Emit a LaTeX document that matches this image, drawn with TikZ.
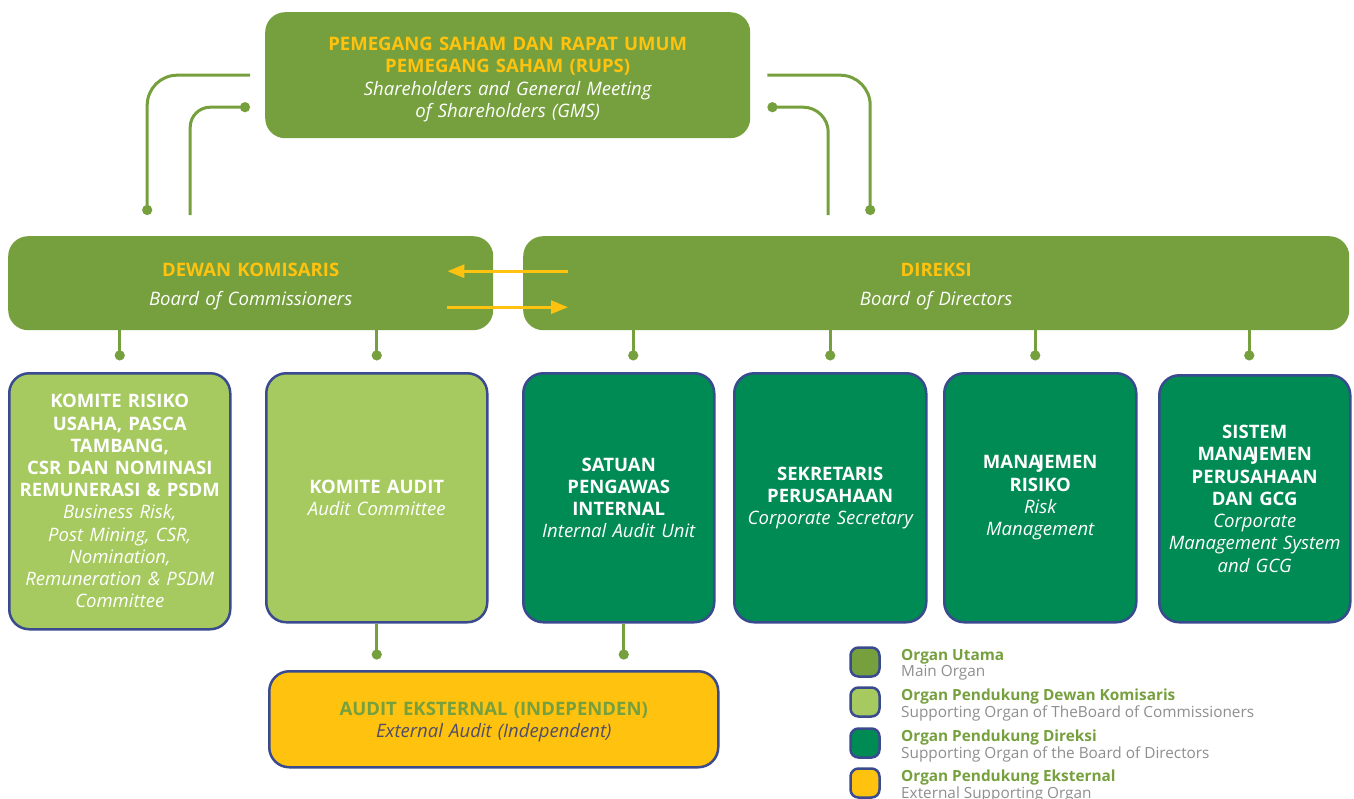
\documentclass[tikz,border=0pt]{standalone}
\usepackage{fontspec}
\setmainfont{Open Sans}
\usepackage{xcolor}
\usepackage{tikz}
\usetikzlibrary{arrows.meta}
\definecolor{maingreen}{HTML}{76A03E}
\definecolor{lightgreen}{HTML}{A6CA60}
\definecolor{darkgreen}{HTML}{008A54}
\definecolor{gold}{HTML}{FFC20E}
\definecolor{navy}{HTML}{3A4A8E}
\definecolor{slate}{HTML}{4E4E6A}
\definecolor{leggray}{HTML}{8E8E8E}

\begin{document}
\begin{tikzpicture}[x=1bp,y=-1bp]
\tikzstyle{every node}+=[inner sep=0pt]
\tikzstyle{organ}=[rounded corners=20bp, anchor=north west, align=center, text=white, font=\fontsize{18.6}{22.3}\selectfont]
\tikzstyle{mainorg}=[organ, fill=maingreen]
\tikzstyle{bocorg}=[organ, fill=lightgreen, draw=navy, line width=2.5bp]
\tikzstyle{bodorg}=[organ, fill=darkgreen, draw=navy, line width=2.5bp]
\tikzstyle{extorg}=[organ, fill=gold, draw=navy, line width=2.5bp]
\tikzstyle{link}=[draw=maingreen, line width=3bp]
\tikzstyle{flow}=[draw=gold, line width=3bp, -{Triangle[length=17bp,width=13bp]}]
\tikzstyle{swatch}=[rounded corners=8bp, draw=navy, line width=2.5bp, minimum size=29bp]
\tikzstyle{legtext}=[anchor=west, align=left, font=\fontsize{15.4}{16.3}\selectfont]
\useasboundingbox (0,0) rectangle (1354,798);

\node[mainorg, minimum width=485bp, minimum height=126bp, text width=470bp] (rups) at (265,12)
  {{\bfseries\color{gold}\rule{0pt}{22bp}PEMEGANG SAHAM DAN RAPAT UMUM\\PEMEGANG SAHAM (RUPS)}\\
   {\itshape Shareholders and General Meeting\\of Shareholders (GMS)}};
\node[mainorg, minimum width=485bp, minimum height=94bp, text width=470bp] (dewan) at (8,236)
  {{\bfseries\color{gold}\rule{0pt}{19.5bp}DEWAN KOMISARIS}\\[6.5bp]{\itshape Board of Commissioners}};
\node[mainorg, minimum width=826bp, minimum height=94bp, text width=810bp] (direksi) at (523,236)
  {{\bfseries\color{gold}\rule{0pt}{19.5bp}DIREKSI}\\[6.5bp]{\itshape Board of Directors}};

\node[bocorg, minimum width=221bp, minimum height=256bp, text width=212bp] (kr) at (8,372)
  {{\bfseries KOMITE RISIKO\\USAHA, PASCA\\TAMBANG,\\CSR DAN NOMINASI\\REMUNERASI \& PSDM}\\
   {\itshape Business Risk,\\Post Mining, CSR,\\Nomination,\\Remuneration \& PSDM\\Committee}};
\node[bocorg, minimum width=221bp, minimum height=249bp, text width=210bp] (ka) at (265,372)
  {{\bfseries KOMITE AUDIT}\\{\itshape Audit Committee}};
\node[bodorg, minimum width=191bp, minimum height=249bp, text width=182bp] (sp) at (522,372)
  {{\bfseries SATUAN\\PENGAWAS\\INTERNAL}\\{\itshape Internal Audit Unit}};
\node[bodorg, minimum width=192bp, minimum height=249bp, text width=182bp] (sk) at (733,372)
  {{\bfseries SEKRETARIS\\PERUSAHAAN}\\{\itshape Corporate Secretary}};
\node[bodorg, minimum width=192bp, minimum height=249bp, text width=182bp] (mr) at (943,372)
  {{\bfseries MANA\kern-3bp JEMEN\\RISIKO}\\{\itshape Risk\\Management}};
\node[bodorg, minimum width=191bp, minimum height=247bp, text width=186bp] (sm) at (1158,374)
  {{\bfseries SISTEM\\MANA\kern-3bp JEMEN\\PERUSAHAAN\\DAN GCG}\\{\itshape Corporate\\Management System\\and GCG}};

\node[extorg, minimum width=449bp, minimum height=96bp, text width=440bp] (audit) at (268,670)
  {{\bfseries\color{maingreen}\rule{0pt}{19.5bp}AUDIT EKSTERNAL (INDEPENDEN)}\\{\itshape\color{slate}External Audit (Independent)}};

\draw[link, rounded corners=30bp, -{Circle[length=10bp]}] ([xshift=-15bp]rups.west) -| ([xshift=-103.5bp,yshift=21bp]dewan.north);
\draw[link, rounded corners=20bp, {Circle[length=10bp]}-] ([xshift=-15bp,yshift=-32bp]rups.west) -| ([xshift=-60.5bp,yshift=21bp]dewan.north);
\draw[link, rounded corners=30bp, -{Circle[length=10bp]}] ([xshift=17bp]rups.east) -| ([xshift=-66bp,yshift=21bp]direksi.north);
\draw[link, rounded corners=25bp, {Circle[length=10bp]}-] ([xshift=17bp,yshift=-32bp]rups.east) -| ([xshift=-108bp,yshift=21bp]direksi.north);

\draw[flow] ([xshift=45bp,yshift=12bp]direksi.west) -- ([xshift=-46bp,yshift=12bp]dewan.east);
\draw[flow] ([xshift=-46bp,yshift=-24bp]dewan.east) -- ([xshift=45bp,yshift=-24bp]direksi.west);

\draw[link, -{Circle[length=10bp]}] (kr.north |- dewan.south) -- ++(0,30);
\draw[link, -{Circle[length=10bp]}] (ka.north |- dewan.south) -- ++(0,30);
\draw[link, -{Circle[length=10bp]}] ([xshift=14.5bp]sp.north |- direksi.south) -- ++(0,30);
\draw[link, -{Circle[length=10bp]}] (sk.north |- direksi.south) -- ++(0,30);
\draw[link, -{Circle[length=10bp]}] ([xshift=-5bp]mr.north |- direksi.south) -- ++(0,30);
\draw[link, -{Circle[length=10bp]}] ([xshift=-5.5bp]sm.north |- direksi.south) -- ++(0,30);

\draw[link, -{Circle[length=10bp]}] (ka.south) -- ++(0,36);
\draw[link, -{Circle[length=10bp]}] ([xshift=5bp]sp.south) -- ++(0,36);

\node[swatch, fill=maingreen] (l1) at (865,662) {};
\node[legtext] (l1t) at (901,665) {{\bfseries\color{maingreen}Organ Utama}\\{\color{leggray}Main Organ}};
\node[swatch, fill=lightgreen] (l2) at (865,702) {};
\node[legtext] (l2t) at (901,705) {{\bfseries\color{maingreen}Organ Pendukung Dewan Komisaris}\\{\color{leggray}Supporting Organ of TheBoard of Commissioners}};
\node[swatch, fill=darkgreen] (l3) at (865,743) {};
\node[legtext] (l3t) at (901,746) {{\bfseries\color{maingreen}Organ Pendukung Direksi}\\{\color{leggray}Supporting Organ of the Board of Directors}};
\node[swatch, fill=gold] (l4) at (865,783) {};
\node[legtext] (l4t) at (901,786) {{\bfseries\color{maingreen}Organ Pendukung Eksternal}\\{\color{leggray}External Supporting Organ}};
\end{tikzpicture}
\end{document}
